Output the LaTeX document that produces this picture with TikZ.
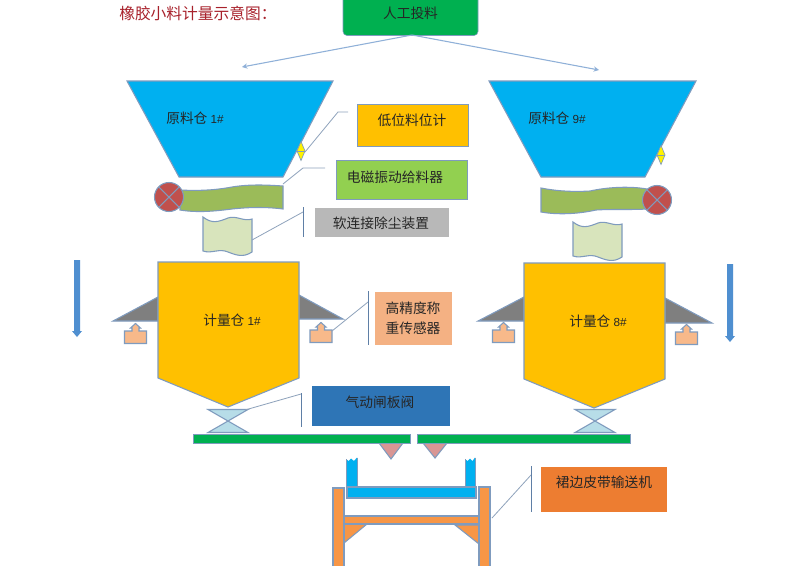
\documentclass[tikz,border=0pt]{standalone}
\usetikzlibrary{arrows.meta}
\usepackage{fontspec}
\setmainfont{Noto Sans CJK SC}
\newfontfamily\latinf{Liberation Sans}
\definecolor{edge}{HTML}{7F9BBE}
\definecolor{leader}{HTML}{8FA3BC}
\definecolor{vline}{HTML}{5F7FA6}
\definecolor{hopblue}{HTML}{00B0F0}
\definecolor{bingold}{HTML}{FFC000}
\definecolor{feedgreen}{HTML}{9BBB59}
\definecolor{softgreen}{HTML}{D8E4BC}
\definecolor{barred}{HTML}{C0504D}
\definecolor{peach}{HTML}{F8B98A}
\definecolor{valveblue}{HTML}{B7DDE8}
\definecolor{trired}{HTML}{D99694}
\definecolor{frameor}{HTML}{F79646}
\definecolor{arrowblue}{HTML}{4F8FD0}
\definecolor{topgreen}{HTML}{00B050}
\definecolor{titlered}{HTML}{A8212B}
\definecolor{wedge}{HTML}{7F7F7F}
\definecolor{limegreen}{HTML}{92D050}
\definecolor{senspeach}{HTML}{F4B183}
\definecolor{valvebox}{HTML}{2E75B6}
\definecolor{beltbox}{HTML}{ED7D31}
\definecolor{arrowline}{HTML}{8FB0D8}
\tikzset{
  shape line/.style={draw=edge,line width=0.8pt,line join=miter},
  thin shape/.style={draw=edge,line width=0.45pt},
  leaderline/.style={draw=leader,line width=0.6pt},
  vbar/.style={draw=vline,line width=0.7pt},
  lab/.style={inner sep=0pt,font=\fontsize{10.3pt}{12pt}\selectfont,text=black!85},
  boxn/.style n args={2}{inner sep=0pt,outer sep=0pt,minimum width=#1*.75pt,minimum height=#2*.75pt},
}
\newcommand{\numtxt}[1]{{\latinf\fontsize{8.8pt}{9pt}\selectfont #1}}
\newcommand{\softpiece}{%
  \draw[shape line,fill=softgreen] (203,217) .. controls (212,224) and (218,222) .. (228,218)
    .. controls (236,215) and (244,222) .. (252,219) -- (252,252)
    .. controls (243,258) and (236,255) .. (228,252)
    .. controls (219,248) and (212,254) .. (203,251) -- cycle;}
\newcommand{\valvepiece}{%
  \draw[shape line,fill=valveblue] (-20,-11) -- (20,-11) -- (-20,12) -- (20,12) -- cycle;}
\newcommand{\crossball}{%
  \draw[shape line,fill=barred] (0,0) circle[radius=14.5*.75pt];
  \draw[shape line] (-10.2,-10.2) -- (10.2,10.2) (-10.2,10.2) -- (10.2,-10.2);}
\newcommand{\levelmark}{%
  \draw[draw=edge,line width=0.5pt,fill=yellow] (0,-9.5) -- (4,0) -- (0,9.5) -- (-4,0) -- cycle;
  \draw[draw=edge,line width=0.5pt] (-4,0) -- (4,0);}
\newcommand{\sensorpiece}{%
  \draw[shape line,fill=peach] (-11,0) -- (-3.5,0) -- (-3.5,-3) -- (-5,-3) -- (0,-7.5) -- (5,-3) -- (3.5,-3) -- (3.5,0) -- (11,0) -- (11,12.5) -- (-11,12.5) -- cycle;}
\begin{document}
\begin{tikzpicture}[x=0.75pt,y=-0.75pt]
\useasboundingbox (0,0) rectangle (791,565);
\clip (0,0) rectangle (791,565);
\fill[white] (0,0) rectangle (791,565);

% title
\node[anchor=west,inner sep=0pt,text=titlered,font=\fontsize{11.8pt}{13pt}\selectfont] (title) at (119,13) {橡胶小料计量示意图：};

% manual feed box and its two arrows
\node[boxn={135}{40},fill=topgreen,rounded corners=3pt,draw=edge,line width=0.4pt] (feedbox) at (410.5,15.5) {};
\node[lab] (feedtxt) at (410.5,13.5) {人工投料};
\coordinate (feedout) at (412,35);
\coordinate (leftin) at (242,67);
\coordinate (rightin) at (599,70);
\draw[draw=arrowline,line width=0.8pt,-{Stealth[length=4pt,width=4pt]}] (feedout) -- (leftin);
\draw[draw=arrowline,line width=0.8pt,-{Stealth[length=4pt,width=4pt]}] (feedout) -- (rightin);

% raw material hoppers
\draw[shape line,fill=hopblue] (127,81) -- (333,81) -- (283,177) -- (179,177) -- cycle;
\draw[shape line,fill=hopblue] (489,81) -- (696,81) -- (645,177) -- (541,177) -- cycle;
\node[lab,anchor=west] (rawa) at (166,118) {原料仓 \numtxt{1\#}};
\node[lab,anchor=west] (rawb) at (528,118) {原料仓 \numtxt{9\#}};

% level marks
\begin{scope}[shift={(301,151)}]\levelmark\end{scope}
\begin{scope}[shift={(661,155)}]\levelmark\end{scope}

% feeders
\draw[shape line,fill=feedgreen] (180,190) .. controls (200,191) and (216,190) .. (232,187)
  .. controls (250,184) and (268,185) .. (283,186) -- (283,209)
  .. controls (268,207) and (250,207) .. (232,209)
  .. controls (216,211) and (198,213) .. (180,210) -- cycle;
\draw[shape line,fill=feedgreen] (541,188) .. controls (556,191) and (572,192) .. (590,191)
  .. controls (608,187) and (630,186) .. (647,189) -- (647,209)
  .. controls (630,210) and (612,209) .. (596,210)
  .. controls (578,214) and (558,215) .. (541,212) -- cycle;
\begin{scope}[shift={(169,197)}]\crossball\end{scope}
\begin{scope}[shift={(657,200)}]\crossball\end{scope}

% soft connections
\softpiece
\begin{scope}[shift={(370,5)}]\softpiece\end{scope}

% weigh bins
\draw[shape line,fill=wedge] (113,321) -- (158,297) -- (158,321) -- cycle;
\draw[shape line,fill=wedge] (299,295) -- (343,319) -- (299,319) -- cycle;
\draw[shape line,fill=wedge] (478,321) -- (524,297) -- (524,321) -- cycle;
\draw[shape line,fill=wedge] (665,298) -- (712,323) -- (665,323) -- cycle;
\draw[shape line,fill=bingold] (158,262) -- (299,262) -- (299,378) -- (228,407) -- (158,378) -- cycle;
\draw[shape line,fill=bingold] (524,263) -- (665,263) -- (665,379) -- (594,408) -- (524,379) -- cycle;
\node[lab,anchor=west] (bina) at (203,320) {计量仓 \numtxt{1\#}};
\node[lab,anchor=west] (binb) at (569,321) {计量仓 \numtxt{8\#}};

% load cells
\begin{scope}[shift={(135.5,331)}]\sensorpiece\end{scope}
\begin{scope}[shift={(321,330)}]\sensorpiece\end{scope}
\begin{scope}[shift={(503.5,330)}]\sensorpiece\end{scope}
\begin{scope}[shift={(686.5,332)}]\sensorpiece\end{scope}

% gate valves
\begin{scope}[shift={(228,420.5)}]\valvepiece\end{scope}
\begin{scope}[shift={(595,420.5)}]\valvepiece\end{scope}

% green bars and small chutes
\draw[shape line,fill=trired] (379,443) -- (403,443) -- (391,459) -- cycle;
\draw[shape line,fill=trired] (423,443) -- (447,443) -- (435,458) -- cycle;
\draw[thin shape,fill=topgreen] (193,434) rectangle (410,443);
\draw[thin shape,fill=topgreen] (417,434) rectangle (630,443);

% belt conveyor
\draw[shape line,fill=frameor] (344,524) -- (367,524) -- (344,543) -- cycle;
\draw[shape line,fill=frameor] (455,525) -- (479,525) -- (479,544) -- cycle;
\draw[shape line,fill=frameor] (344,516) rectangle (481,524);
\draw[shape line,fill=frameor] (333,488) rectangle (344,570);
\draw[shape line,fill=frameor] (479,487) rectangle (490,570);
\draw[draw=none,fill=hopblue] (346,459) -- (348.5,461) -- (351,458.5) -- (354,461) -- (357,457.5) -- (357,487) -- (346,487) -- cycle;
\draw[draw=none,fill=hopblue] (465,459) -- (467.5,461) -- (470,458.5) -- (472.5,461) -- (475,457.5) -- (475,487) -- (465,487) -- cycle;
\draw[draw=edge,line width=0.5pt] (346,459) -- (346,487) (357,457.5) -- (357,487) (465,459) -- (465,487) (475,457.5) -- (475,487);
\draw[shape line,fill=hopblue] (347,487) rectangle (476,498);

% flow arrows
\fill[arrowblue] (74,260) -- (80,260) -- (80,331) -- (82,331) -- (77,337) -- (72,331) -- (74,331) -- cycle;
\fill[arrowblue] (727,264) -- (733,264) -- (733,336) -- (735,336) -- (730,342) -- (725,336) -- (727,336) -- cycle;

% label boxes
\node[boxn={111}{42},fill=bingold,draw=edge,line width=0.6pt] (lowbox) at (412.5,125) {};
\node[lab] (lowtxt) at (412,120) {低位料位计};
\node[boxn={131}{39},fill=limegreen,draw=edge,line width=0.6pt] (feedlab) at (401.5,179.5) {};
\node[lab] (feedlabtxt) at (395,177) {电磁振动给料器};
\node[boxn={134}{29},fill=black!28] (softlab) at (382,222.5) {};
\node[lab] (softlabtxt) at (381,223) {软连接除尘装置};
\node[boxn={77}{53},fill=senspeach] (senslab) at (413.5,318.5) {};
\node[lab,align=center,font=\fontsize{10.3pt}{15pt}\selectfont] (senstxt) at (413,318) {高精度称\\重传感器};
\node[boxn={138}{40},fill=valvebox] (valvelab) at (381,406) {};
\node[lab] (valvetxt) at (380,402) {气动闸板阀};
\node[boxn={126}{45},fill=beltbox] (beltlab) at (604,489.5) {};
\node[lab] (belttxt) at (604,482) {裙边皮带输送机};

% leaders
\coordinate (la) at (305,152); \coordinate (lb) at (338,112); \coordinate (lc) at (348,112);
\draw[leaderline] (la) -- (lb) -- (lc);
\coordinate (fa) at (283,184); \coordinate (fb) at (303,168); \coordinate (fc) at (325,168);
\draw[leaderline] (fa) -- (fb) -- (fc);
\coordinate (sa) at (252,240); \coordinate (sb) at (303,212); \coordinate (st) at (303,207); \coordinate (sd) at (303,237);
\draw[leaderline] (sa) -- (sb);
\draw[vbar] (st) -- (sd);
\coordinate (ca) at (332,331); \coordinate (cb) at (368,302); \coordinate (ct) at (368,291); \coordinate (cd) at (368,345);
\draw[leaderline] (ca) -- (cb);
\draw[vbar] (ct) -- (cd);
\coordinate (va) at (245,410); \coordinate (vb) at (301,394); \coordinate (vt) at (301,393); \coordinate (vd) at (301,427);
\draw[leaderline] (va) -- (vb);
\draw[vbar] (vt) -- (vd);
\coordinate (ba) at (492,518); \coordinate (bb) at (531,475); \coordinate (bt) at (531,466); \coordinate (bd) at (531,512);
\draw[leaderline] (ba) -- (bb);
\draw[vbar] (bt) -- (bd);
\end{tikzpicture}
\end{document}
